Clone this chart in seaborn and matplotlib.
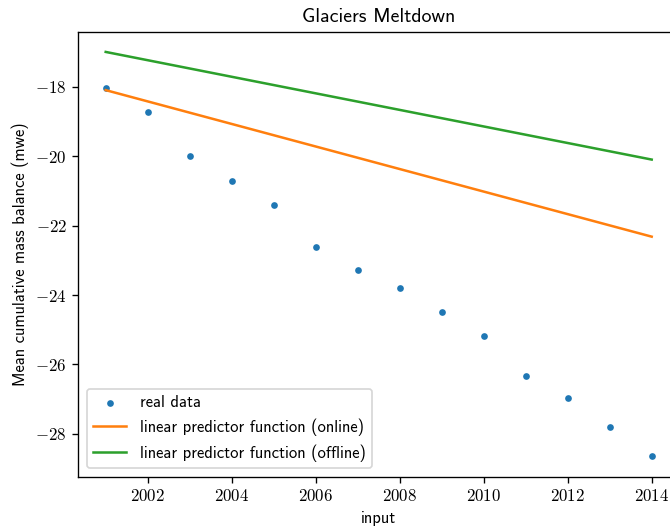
import matplotlib
matplotlib.use("Agg")
import matplotlib.pyplot as plt
from matplotlib.ticker import FuncFormatter
import seaborn as sns

# Observed mean cumulative mass balance per year
years = [2001, 2002, 2003, 2004, 2005, 2006, 2007, 2008, 2009, 2010, 2011, 2012, 2013, 2014]
mass_balance = [-18.04, -18.74, -20.00, -20.72, -21.42, -22.62, -23.27, -23.80,
                -24.48, -25.19, -26.32, -26.96, -27.80, -28.65]

# Linear predictor endpoints
pred_years = [2001, 2014]
online_pred = [-18.10, -22.32]
offline_pred = [-17.00, -20.10]

plt.rcParams["font.family"] = ["cmss10", "DejaVu Sans"]
plt.rcParams["font.size"] = 9.85
plt.rcParams["xtick.labelsize"] = 10
plt.rcParams["ytick.labelsize"] = 10
plt.rcParams["mathtext.fontset"] = "cm"
plt.rcParams["axes.formatter.use_mathtext"] = True
plt.rcParams["axes.unicode_minus"] = True

DPI = 121
fig = plt.figure(figsize=(670 / DPI, 527 / DPI), dpi=DPI)
ax = fig.add_axes([78.4 / 670, 50.3 / 527, (679 - 78.4) / 670, (476.7 - 31.7) / 527])

sns.scatterplot(x=years, y=mass_balance, ax=ax, color="#1f77b4", s=16,
                linewidth=0, label="real data")
sns.lineplot(x=pred_years, y=online_pred, ax=ax, color="#ff7f0e", linewidth=1.5,
             label="linear predictor function (online)")
sns.lineplot(x=pred_years, y=offline_pred, ax=ax, color="#2ca02c", linewidth=1.5,
             label="linear predictor function (offline)")

ax.margins(0.05)
fmt = FuncFormatter(lambda v, p: f"${v:.0f}$")
ax.xaxis.set_major_formatter(fmt)
ax.yaxis.set_major_formatter(fmt)

ax.set_title("Glaciers Meltdown")
ax.set_xlabel("input")
ax.set_ylabel("Mean cumulative mass balance (mwe)")
ax.legend(loc="lower left")

fig.savefig("out.png", dpi=DPI)
